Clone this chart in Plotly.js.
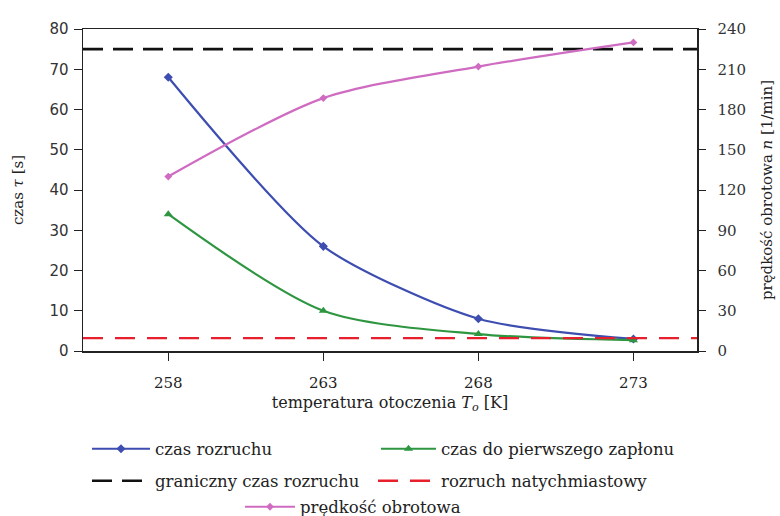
<!DOCTYPE html>
<html>
<head>
<meta charset="utf-8">
<script src="https://cdn.plot.ly/plotly-3.0.1.min.js"></script>
<style>html,body{margin:0;padding:0;background:#fff;}#chart{width:780px;height:516px;}</style>
</head>
<body>
<div id="chart"></div>
<script>
// ---- data ----
const temperatures = [258, 263, 268, 273];
const startTime = [68, 26, 8, 3];            // czas rozruchu [s]
const firstIgnition = [34, 10, 4.2, 2.7];     // czas do pierwszego zapłonu [s]
const rotSpeed = [130, 188.5, 212, 230];      // prędkość obrotowa [1/min]
const limitStartTime = 75;                    // graniczny czas rozruchu [s]
const instantStart = 3.2;                     // rozruch natychmiastowy [s]
const xRange = [255.25, 275.05];
const xTicks = [258, 263, 268, 273];
const yLeftTicks = [0, 10, 20, 30, 40, 50, 60, 70, 80];
const yRightTicks = [0, 30, 60, 90, 120, 150, 180, 210, 240];

const serif = "DejaVu Serif, serif";
const sans = "DejaVu Sans, Verdana, sans-serif";

const traces = [
  {x: temperatures, y: startTime, name: 'czas rozruchu', type: 'scatter', mode: 'lines+markers',
   line: {color: '#3d4db0', width: 2.2, shape: 'spline', smoothing: 0.7},
   marker: {symbol: 'diamond', size: 7, color: '#3d4db0'}, legend: 'legend'},
  {x: temperatures, y: firstIgnition, name: 'czas do pierwszego zapłonu', type: 'scatter', mode: 'lines+markers',
   line: {color: '#2e9640', width: 2.2, shape: 'spline', smoothing: 0.8},
   marker: {symbol: 'triangle-up', size: 8, color: '#2e9640'}, legend: 'legend2'},
  {x: xRange, y: [limitStartTime, limitStartTime], name: 'graniczny czas rozruchu', type: 'scatter', mode: 'lines',
   line: {color: '#111', width: 2.6, dash: '20px,10px'}, legend: 'legend3'},
  {x: xRange, y: [instantStart, instantStart], name: 'rozruch natychmiastowy', type: 'scatter', mode: 'lines',
   line: {color: '#e8202e', width: 2.4, dash: '20px,12px'}, legend: 'legend4'},
  {x: temperatures, y: rotSpeed, name: 'prędkość obrotowa', type: 'scatter', mode: 'lines+markers', yaxis: 'y2',
   line: {color: '#cf6cc2', width: 2.2, shape: 'spline', smoothing: 0.8},
   marker: {symbol: 'diamond', size: 6, color: '#cf6cc2'}, legend: 'legend5'}
];

function leg(xpx, ypx, w) {
  return {orientation: 'h', xref: 'container', yref: 'container', xanchor: 'left', yanchor: 'middle',
    x: xpx / 780, y: 1 - ypx / 516,
    font: {family: serif, size: 16.5, color: '#222'}, bgcolor: 'rgba(0,0,0,0)', itemwidth: w, borderwidth: 0};
}

const layout = {
  width: 780, height: 516,
  margin: {l: 83, r: 83, t: 29, b: 165},
  paper_bgcolor: '#fff', plot_bgcolor: '#fff',
  showlegend: true,
  xaxis: {range: xRange, tickvals: xTicks, ticktext: xTicks.map(String), showgrid: false, zeroline: false,
    showline: true, linecolor: '#222', linewidth: 1.5, mirror: true, ticks: 'outside', ticklen: 8, tickcolor: '#222',
    ticklabelstandoff: 9,
    tickfont: {family: serif, size: 15, color: '#222'},
    title: {text: 'temperatura otoczenia <i>T<sub>o</sub></i> [K]', font: {family: serif, size: 16, color: '#222'}, standoff: 6}},
  yaxis: {range: [0, 80], tickvals: yLeftTicks, showgrid: false, zeroline: false,
    showline: true, linecolor: '#222', linewidth: 1.5, ticks: 'outside', ticklen: 8, tickcolor: '#222',
    ticklabelstandoff: 2,
    tickfont: {family: sans, size: 15, color: '#333'},
    title: {text: 'czas <i>τ</i> [s]', font: {family: serif, size: 15, color: '#222'}, standoff: 22}},
  yaxis2: {range: [0, 240], tickvals: yRightTicks, overlaying: 'y', side: 'right', showgrid: false, zeroline: false,
    showline: true, linecolor: '#222', linewidth: 1.5, ticks: 'outside', ticklen: 7, tickcolor: '#222',
    ticklabelstandoff: 9,
    tickfont: {family: serif, size: 15, color: '#333'},
    title: {text: 'prędkość obrotowa <i>n</i> [1/min]', font: {family: serif, size: 15, color: '#222'}, standoff: 16}},
  legend: leg(87, 449, 58),
  legend2: leg(376, 449, 55),
  legend3: leg(87, 481, 58),
  legend4: leg(373, 481, 58),
  legend5: leg(240, 507, 50)
};

Plotly.newPlot('chart', traces, layout, {displayModeBar: false, staticPlot: true});
</script>
</body>
</html>
